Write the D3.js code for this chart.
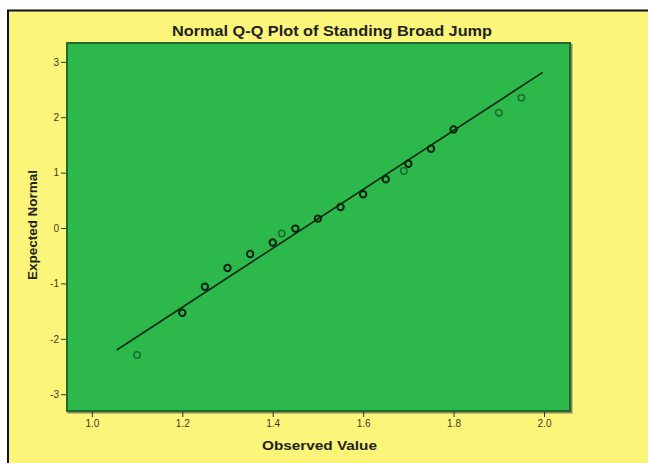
<!DOCTYPE html>
<head>
<meta charset="utf-8">
<style>
body, html {
  margin: 0;
  padding: 0;
  background: #fff;
  font-family: "Liberation Sans", Arial, sans-serif;
}
.tick text {
  font-size: 10px;
  fill: #3a3a2a;
}
.tick line {
  stroke: #333;
}
.domain {
  display: none;
}
</style>
<script src="https://d3js.org/d3.v7.min.js"></script>
</head>
<body>
<div id="chart"></div>
<script>

var observed = [1.10, 1.20, 1.25, 1.30, 1.35, 1.40, 1.42, 1.45, 1.50,
                1.55, 1.60, 1.65, 1.69, 1.70, 1.75, 1.80, 1.90, 1.95];
var expected = [-2.29, -1.53, -1.06, -0.72, -0.47, -0.26, -0.10, -0.01, 0.17,
                0.38, 0.61, 0.88, 1.03, 1.16, 1.43, 1.78, 2.08, 2.35];
// how many cases sit on each point (darker rings = more cases)
var counts = [1, 2, 2, 2, 2, 2, 1, 2, 2, 2, 2, 2, 1, 2, 2, 2, 1, 1];

// reference line: expected = (x - mean) / sd
var lineMean = 1.469,
    lineSd = 0.188,
    lineEnds = [1.055, 1.997];

var xTicks = [1.0, 1.2, 1.4, 1.6, 1.8, 2.0];
var yTicks = [-3, -2, -1, 0, 1, 2, 3];

var width = 648,
    height = 463;

var plot = {left: 67, right: 570, top: 43, bottom: 411};

var svg = d3.select('#chart').append('svg')
    .attr('width', width)
    .attr('height', height);

// outer frame
svg.append('rect')
    .attr('x', 8).attr('y', 11)
    .attr('width', width).attr('height', height)
    .attr('fill', '#fbf67a');
svg.append('line')
    .attr('x1', 7).attr('x2', width).attr('y1', 10.5).attr('y2', 10.5)
    .attr('stroke', '#111').attr('stroke-width', 2);
svg.append('line')
    .attr('x1', 8).attr('x2', 8).attr('y1', 10).attr('y2', height)
    .attr('stroke', '#111').attr('stroke-width', 2);

var x = d3.scaleLinear()
    .domain([0.945, 2.0575])
    .range([plot.left, plot.right]);

var y = d3.scaleLinear()
    .domain([-3.303, 3.34])
    .range([plot.bottom, plot.top]);

// plot area
svg.append('rect')
    .attr('x', plot.left + 1.5).attr('y', plot.top + 1.5)
    .attr('width', plot.right - plot.left).attr('height', plot.bottom - plot.top)
    .attr('fill', 'none')
    .attr('stroke', '#8a8a5a').attr('stroke-width', 2);
svg.append('rect')
    .attr('x', plot.left).attr('y', plot.top)
    .attr('width', plot.right - plot.left).attr('height', plot.bottom - plot.top)
    .attr('fill', '#2db84b')
    .attr('stroke', '#1d6a2c').attr('stroke-width', 2);

// axes
svg.append('g')
    .attr('transform', 'translate(0,' + (plot.bottom + 1) + ')')
    .call(d3.axisBottom(x).tickValues(xTicks).tickFormat(d3.format('.1f'))
      .tickSize(5).tickPadding(3));

svg.append('g')
    .attr('transform', 'translate(' + (plot.left - 1) + ',0)')
    .call(d3.axisLeft(y).tickValues(yTicks).tickFormat(function(d) { return String(d); })
      .tickSize(5).tickPadding(2));

// reference line
svg.append('line')
    .attr('x1', x(lineEnds[0]))
    .attr('y1', y((lineEnds[0] - lineMean) / lineSd))
    .attr('x2', x(lineEnds[1]))
    .attr('y2', y((lineEnds[1] - lineMean) / lineSd))
    .attr('stroke', '#0c2a12')
    .attr('stroke-width', 1.6);

// points
svg.append('g').selectAll('circle')
    .data(observed)
  .enter().append('circle')
    .attr('cx', function(d) { return x(d); })
    .attr('cy', function(d, i) { return y(expected[i]); })
    .attr('r', 3.2)
    .attr('fill', 'none')
    .attr('stroke', function(d, i) { return counts[i] > 1 ? '#0a240f' : '#176e2b'; })
    .attr('stroke-width', function(d, i) { return counts[i] > 1 ? 2 : 1.5; });

// titles
svg.append('text')
    .attr('x', 332).attr('y', 36)
    .attr('text-anchor', 'middle')
    .attr('textLength', 320).attr('lengthAdjust', 'spacingAndGlyphs')
    .style('font-size', '14.5px').style('font-weight', 'bold')
    .attr('fill', '#222')
    .text('Normal Q-Q Plot of Standing Broad Jump');

svg.append('text')
    .attr('x', 319.5).attr('y', 450)
    .attr('text-anchor', 'middle')
    .attr('textLength', 115).attr('lengthAdjust', 'spacingAndGlyphs')
    .style('font-size', '13px').style('font-weight', 'bold')
    .attr('fill', '#222')
    .text('Observed Value');

svg.append('text')
    .attr('transform', 'translate(37,225) rotate(-90)')
    .attr('text-anchor', 'middle')
    .attr('textLength', 110).attr('lengthAdjust', 'spacingAndGlyphs')
    .style('font-size', '12.5px').style('font-weight', 'bold')
    .attr('fill', '#222')
    .text('Expected Normal');

</script>
</body>
